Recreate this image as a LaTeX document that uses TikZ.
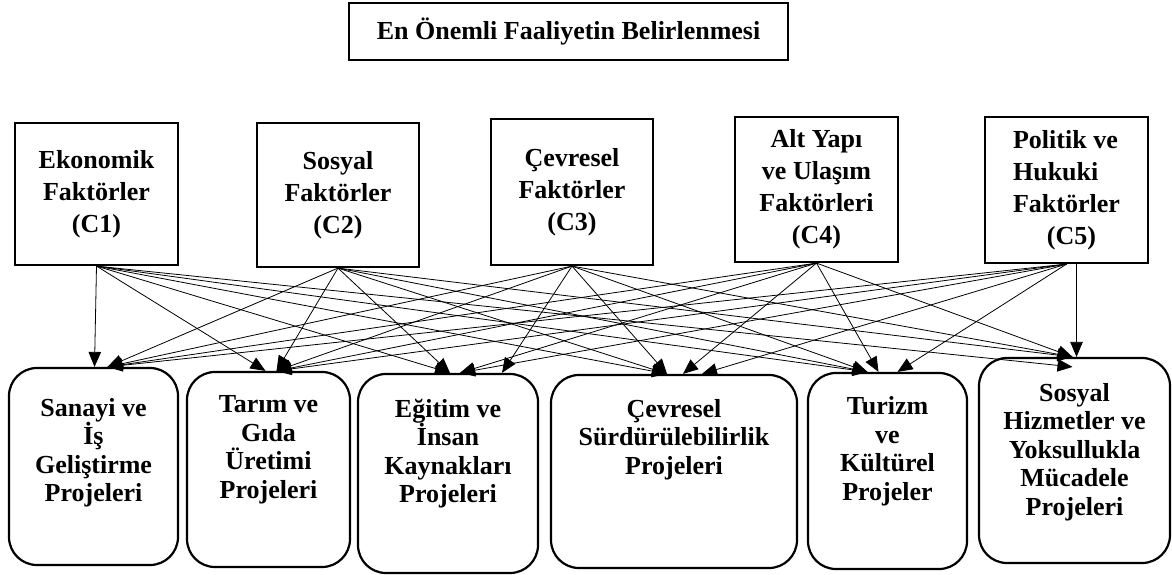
\documentclass[tikz,border=0pt]{standalone}
\usepackage{fontspec}
\setmainfont{Liberation Serif}
\usetikzlibrary{arrows.meta}

\begin{document}
\begin{tikzpicture}[x=1pt,y=-1pt,>={Triangle[length=15pt,width=12.5pt]},
  kriter/.style={draw,line width=2.2pt,inner sep=0pt,align=center,
    font=\fontsize{26}{32}\selectfont\bfseries},
  proje/.style={draw,line width=2.2pt,rounded corners=28pt,inner sep=0pt},
  projeyazi/.style={align=center,inner sep=0pt,
    font=\fontsize{26}{28.5}\selectfont\bfseries},
  ok/.style={->,line width=0.8pt}]
\useasboundingbox (0,0) rectangle (1172,575);

% amac
\node[kriter,minimum width=439pt,minimum height=57pt] (amac) at (568.5,31.5) {En Önemli Faaliyetin Belirlenmesi};

% kriterler
\node[kriter,minimum width=163pt,minimum height=142pt] (c1) at (96.5,194) {Ekonomik\\Faktörler\\(C1)};
\node[kriter,minimum width=162pt,minimum height=144pt] (c2) at (338,195) {Sosyal\\Faktörler\\(C2)};
\node[kriter,minimum width=162pt,minimum height=146pt] (c3) at (572,192) {Çevresel\\Faktörler\\(C3)};
\node[kriter,minimum width=163pt,minimum height=145pt] (c4) at (816.5,189.5) {Alt Yapı\\ve Ulaşım\\Faktörleri\\(C4)};
\node[kriter,align=left,minimum width=163pt,minimum height=146pt] (c5) at (1066.5,190) {Politik ve\\Hukuki\\Faktörler\\\hspace*{1.3em}(C5)};

% projeler
\node[proje,minimum width=169pt,minimum height=197pt] (p1) at (93.5,466.5) {};
\node[proje,minimum width=163pt,minimum height=195pt] (p2) at (268.5,469.5) {};
\node[proje,minimum width=180pt,minimum height=199pt] (p3) at (448,473.5) {};
\node[proje,minimum width=246pt,minimum height=193pt] (p4) at (674,471.5) {};
\node[proje,minimum width=159pt,minimum height=196pt] (p5) at (887.5,471) {};
\node[proje,minimum width=191pt,minimum height=205pt] (p6) at (1074.5,460.5) {};
\node[projeyazi] (p1t) at ([yshift=14pt]p1.center) {Sanayi ve\\İş\\Geliştirme\\Projeleri};
\node[projeyazi] (p2t) at ([yshift=19.5pt]p2.center) {Tarım ve\\Gıda\\Üretimi\\Projeleri};
\node[projeyazi] (p3t) at ([yshift=20pt]p3.center) {Eğitim ve\\İnsan\\Kaynakları\\Projeleri};
\node[projeyazi] (p4t) at ([yshift=32pt]p4.center) {Çevresel\\Sürdürülebilirlik\\Projeleri};
\node[projeyazi] (p5t) at ([yshift=20pt]p5.center) {Turizm\\ve\\Kültürel\\Projeler};
\node[projeyazi] (p6t) at ([yshift=8.5pt]p6.center) {Sosyal\\Hizmetler ve\\Yoksullukla\\Mücadele\\Projeleri};

% C1
\draw[ok] (c1.south) -- ([xshift=1pt]p1.north);
\draw[ok] (c1.south) -- ([xshift=-3pt]p2.north);
\draw[ok] (c1.south) -- ([xshift=2pt]p3.north);
\draw[ok] (c1.south) -- ([xshift=-7pt]p4.north);
\draw[ok] (c1.south) -- ([xshift=-20pt]p5.north);
\draw[ok] (c1.south) -- ([xshift=-2pt,yshift=-10pt]p6.north);
% C2
\draw[ok] (c2.south) -- ([xshift=14pt]p1.north);
\draw[ok] (c2.south) -- ([xshift=8pt]p2.north);
\draw[ok] (c2.south) -- ([xshift=2pt]p3.north);
\draw[ok] (c2.south) -- ([xshift=-7pt]p4.north);
\draw[ok] (c2.south) -- ([xshift=-20pt]p5.north);
\draw[ok] (c2.south) -- ([xshift=-2pt]p6.north);
% C3
\draw[ok] (c3.south) -- ([xshift=14pt]p1.north);
\draw[ok] (c3.south) -- ([xshift=8pt]p2.north);
\draw[ok] (c3.south) -- ([xshift=54pt]p3.north);
\draw[ok] (c3.south) -- ([xshift=-7pt]p4.north);
\draw[ok] (c3.south) -- ([xshift=-20pt]p5.north);
\draw[ok] (c3.south) -- ([xshift=-2pt]p6.north);
% C4
\draw[ok] (c4.south) -- ([xshift=14pt]p1.north);
\draw[ok] (c4.south) -- ([xshift=8pt]p2.north);
\draw[ok] (c4.south) -- ([xshift=12pt]p3.north);
\draw[ok] (c4.south) -- ([xshift=9pt]p4.north);
\draw[ok] (c4.south) -- ([xshift=-9pt]p5.north);
\draw[ok] (c4.south) -- ([xshift=-2pt]p6.north);
% C5
\draw[ok] (c5.south) -- ([xshift=14pt]p1.north);
\draw[ok] (c5.south) -- ([xshift=8pt]p2.north);
\draw[ok] (c5.south) -- ([xshift=12pt]p3.north);
\draw[ok] (c5.south) -- ([xshift=28pt]p4.north);
\draw[ok] (c5.south) -- ([xshift=10pt]p5.north);
\draw[ok] ([xshift=10pt]c5.south) -- ([xshift=2pt]p6.north);
\end{tikzpicture}
\end{document}
